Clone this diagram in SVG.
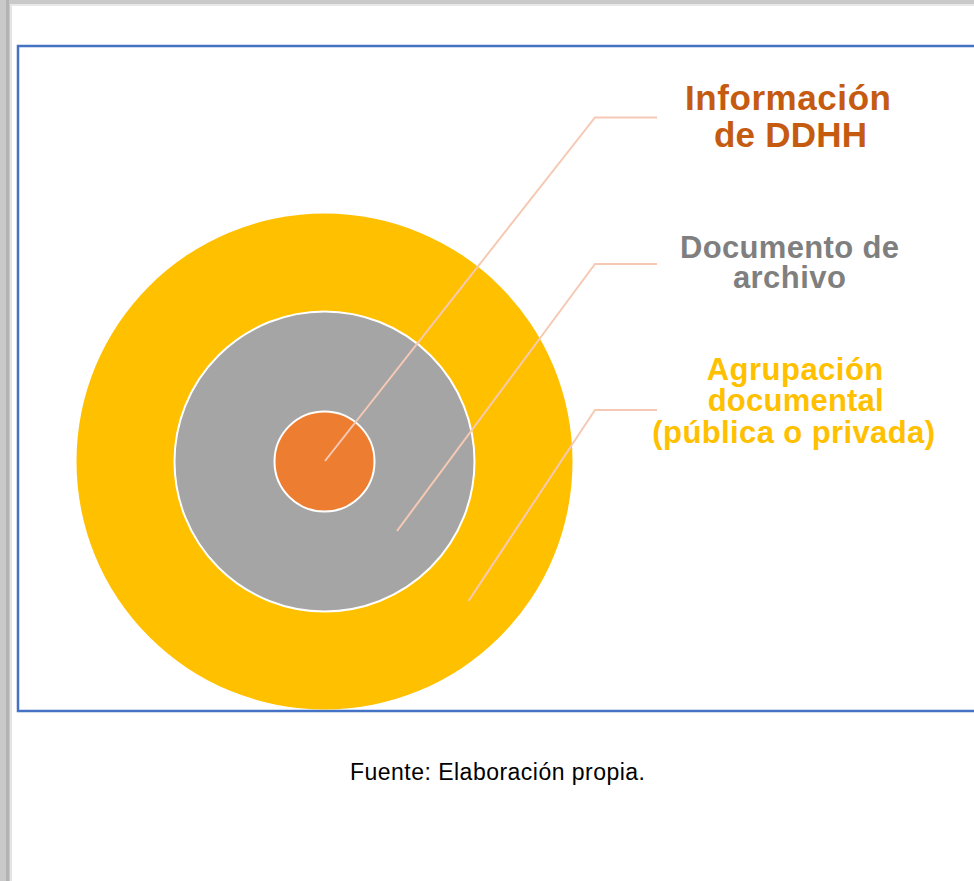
<svg xmlns="http://www.w3.org/2000/svg" width="974" height="881" viewBox="0 0 974 881">
<style>
.lbl{font-family:"Liberation Sans",Arial,sans-serif;font-weight:bold;text-anchor:middle}
.lead{fill:none;stroke:#F6C9B4;stroke-width:2}
.ring{stroke:#FFFFFF;stroke-width:2}
</style>
<rect x="0" y="0" width="974" height="881" fill="#FFFFFF"/>
<g id="chrome">
<rect x="0" y="0" width="974" height="4" fill="#C8C9C8"/>
<rect x="0" y="0" width="10" height="881" fill="#C8C9C8"/>
<rect x="6" y="0" width="3" height="881" fill="#B2B3B2"/>
<rect x="10" y="4" width="2" height="877" fill="#E4E4E4"/>
<rect x="10" y="4" width="964" height="2" fill="#E8E8E8"/>
</g>
<rect id="frame" x="18" y="46" width="1000" height="665" fill="none" stroke="#4472C4" stroke-width="2.5"/>
<g id="agrupacion">
<circle cx="324.5" cy="461.5" r="248" fill="#FFC000"/>
</g>
<g id="documento">
<circle class="ring" cx="324.5" cy="461.5" r="150" fill="#A5A5A5"/>
</g>
<g id="informacion">
<circle class="ring" cx="324.5" cy="461.5" r="50" fill="#ED7D31"/>
</g>
<g id="connectors">
<polyline class="lead" points="325,461 595,117.5 657,117.5"/>
<polyline class="lead" points="397,531 595,264 657,264"/>
<polyline class="lead" points="468.5,601 595,410 657,410"/>
</g>
<g id="label-informacion" fill="#C55A11">
<text class="lbl" x="788" y="109.5" font-size="35" textLength="206" lengthAdjust="spacing">Información</text>
<text class="lbl" x="790.5" y="146.5" font-size="35" textLength="153" lengthAdjust="spacing">de DDHH</text>
</g>
<g id="label-documento" fill="#7F7F7F">
<text class="lbl" x="789.5" y="258" font-size="31" textLength="219" lengthAdjust="spacing">Documento de</text>
<text class="lbl" x="789.4" y="288.3" font-size="31" textLength="113" lengthAdjust="spacing">archivo</text>
</g>
<g id="label-agrupacion" fill="#FFC000">
<text class="lbl" x="795" y="379.5" font-size="31" textLength="176.6" lengthAdjust="spacing">Agrupación</text>
<text class="lbl" x="795.7" y="411" font-size="31" textLength="176" lengthAdjust="spacing">documental</text>
<text class="lbl" x="793.7" y="442.5" font-size="31" textLength="282.7" lengthAdjust="spacing">(pública o privada)</text>
</g>
<g id="source">
<text x="350" y="779.5" font-family="'Liberation Sans',Arial,sans-serif" font-size="23" fill="#000000" textLength="295" lengthAdjust="spacing">Fuente: Elaboración propia.</text>
</g>
</svg>
